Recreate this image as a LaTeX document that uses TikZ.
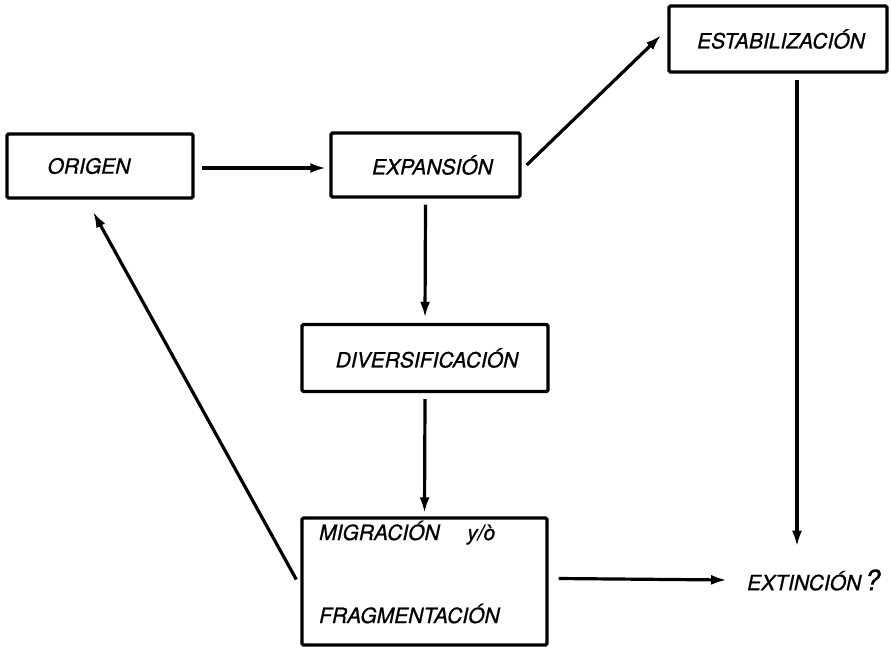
\documentclass[tikz,border=0pt]{standalone}
\usepackage{fontspec}
\setmainfont{TeX Gyre Heros}[ItalicFeatures={FakeBold=0.8}]
\usetikzlibrary{arrows.meta,calc}
\begin{document}
\begin{tikzpicture}[x=1pt,y=-1pt,
  box/.style={draw=black,line width=3.4pt,rounded corners=1.5pt,inner sep=0pt,
    font=\fontsize{21}{24}\selectfont\itshape},
  lbl/.style={inner sep=0pt,font=\fontsize{21}{24}\selectfont\itshape},
  arr/.style={line width=3.2pt,-{Latex[length=16pt,width=10pt]}}]
\useasboundingbox[fill=white] (0,0) rectangle (891,646);
\node[box,minimum width=186pt,minimum height=64pt] (origen) at (100,166) {ORIGEN\hspace*{22pt}};
\node[box,minimum width=189pt,minimum height=64pt] (expansion) at (425.5,165) {\hspace*{14pt}EXPANSIÓN};
\node[box,minimum width=218pt,minimum height=66pt] (estab) at (778,39) {\hspace*{6pt}ESTABILIZACIÓN};
\node[box,minimum width=246pt,minimum height=67pt] (divers) at (425,358) {\hspace*{4pt}DIVERSIFICACIÓN};
\node[box,minimum width=245pt,minimum height=127pt] (migr) at (424.5,581.5) {};
\node[lbl,anchor=base west] (mig) at (319,540) {MIGRACIÓN};
\node[lbl,anchor=base west] (yo) at (467,540) {y/ò};
\node[lbl,anchor=base west] (frag) at (319,623) {FRAGMENTACIÓN};
\node[lbl,anchor=west] (ext) at (747,580) {EXTINCIÓN\,{\fontsize{28}{30}\selectfont ?}};
\draw[arr] ([xshift=7pt,yshift=-2pt]origen.east) -- ([xshift=-3pt,yshift=-3pt]expansion.west);
\draw[arr] ([xshift=5pt]expansion.east) -- ([xshift=-6pt,yshift=4pt]estab.west);
\draw[arr] ([yshift=-6pt]expansion.south) -- ([yshift=5pt]divers.north);
\draw[arr] ([yshift=-6pt]divers.south) -- ([yshift=3pt]migr.north);
\draw[arr] ([xshift=-4pt,yshift=2pt]migr.west) -- ([xshift=-7pt,yshift=-12pt]origen.south);
\draw[arr] ([xshift=10pt,yshift=3pt]migr.east) -- ([xshift=-20pt]ext.west);
\draw[arr] ($(estab.south)+(19,6)$) -- ($(estab.south)+(19,473)$);
\end{tikzpicture}
\end{document}
